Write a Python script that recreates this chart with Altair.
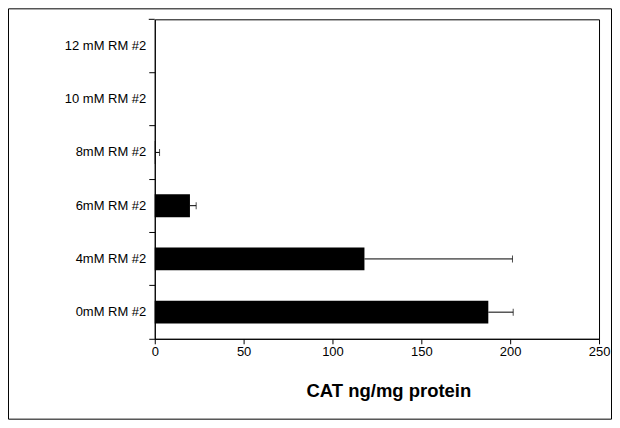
import altair as alt
import pandas as pd

categories = ["12 mM RM #2", "10 mM RM #2", "8mM RM #2", "6mM RM #2", "4mM RM #2", "0mM RM #2"]
values = [0, 0, 0.3, 19.8, 118, 187.7]
errors = [0, 0, 2.4, 3.5, 83.3, 14.0]
x_ticks = [0, 50, 100, 150, 200, 250]

df = pd.DataFrame({"cat": categories, "val": values, "err": errors})
df["hi"] = df["val"] + df["err"]
err_df = df[df["err"] > 0]

W, H = 445, 320
PL, PT = 147, 11
SVG_W, SVG_H = 605, 412

yenc = alt.Y("cat:N", sort=categories, title=None,
             scale=alt.Scale(paddingInner=0.57, paddingOuter=0.285),
             axis=alt.Axis(labelFont="Liberation Sans", labelFontSize=13, labelColor="#000000",
                           labelPadding=3, tickSize=6, tickColor="#000000", domainColor="#000000",
                           bandPosition=1.664, labelFontWeight="normal"))

xscale = alt.Scale(domain=[0, 250], nice=False)
xaxis = alt.Axis(values=x_ticks, labelFont="Liberation Sans", labelFontSize=13, labelColor="#000000",
                 tickSize=5, tickColor="#000000", domainColor="#000000", labelPadding=2,
                 grid=False, labelFlush=False,
                 title="CAT ng/mg protein", titleFont="Liberation Sans", titleFontSize=18.5,
                 titleFontWeight="bold", titleColor="#000000", titleX=234, titleY=58,
                 titleBaseline="alphabetic", titleAnchor="middle", titleAlign="center")

bars = alt.Chart(df).mark_bar(color="#000000").encode(
    x=alt.X("val:Q", scale=xscale, axis=xaxis),
    y=yenc,
)

err_line = alt.Chart(err_df).mark_rule(color="#000000", strokeWidth=1).encode(
    x="val:Q", x2="hi:Q", y=alt.Y("cat:N", sort=categories)
)
err_cap = alt.Chart(err_df).mark_tick(color="#000000", thickness=1, size=7, orient="vertical").encode(
    x="hi:Q", y=alt.Y("cat:N", sort=categories)
)

frame = alt.Chart(pd.DataFrame({"a": [0]})).mark_rect(fill=None, stroke="#000000", strokeWidth=1).encode(
    x=alt.value(-PL + 0.5), x2=alt.value(SVG_W - PL - 0.5),
    y=alt.value(-PT + 0.5), y2=alt.value(SVG_H - PT - 0.5),
)

top_tick = alt.Chart(pd.DataFrame({"a": [0]})).mark_rule(color="#000000", strokeWidth=1).encode(
    x=alt.value(-6), x2=alt.value(0), y=alt.value(0)
)

chart = alt.layer(bars, err_line, err_cap, frame, top_tick).properties(
    width=W, height=H,
    autosize=alt.AutoSizeParams(type="none"),
    padding={"left": PL, "top": PT, "right": SVG_W - PL - W, "bottom": SVG_H - PT - H},
    background="#ffffff",
).configure_view(stroke="#000000", strokeWidth=1).configure_axis(grid=False)

chart.save("out.html", embed_options={"renderer": "svg", "actions": False})
